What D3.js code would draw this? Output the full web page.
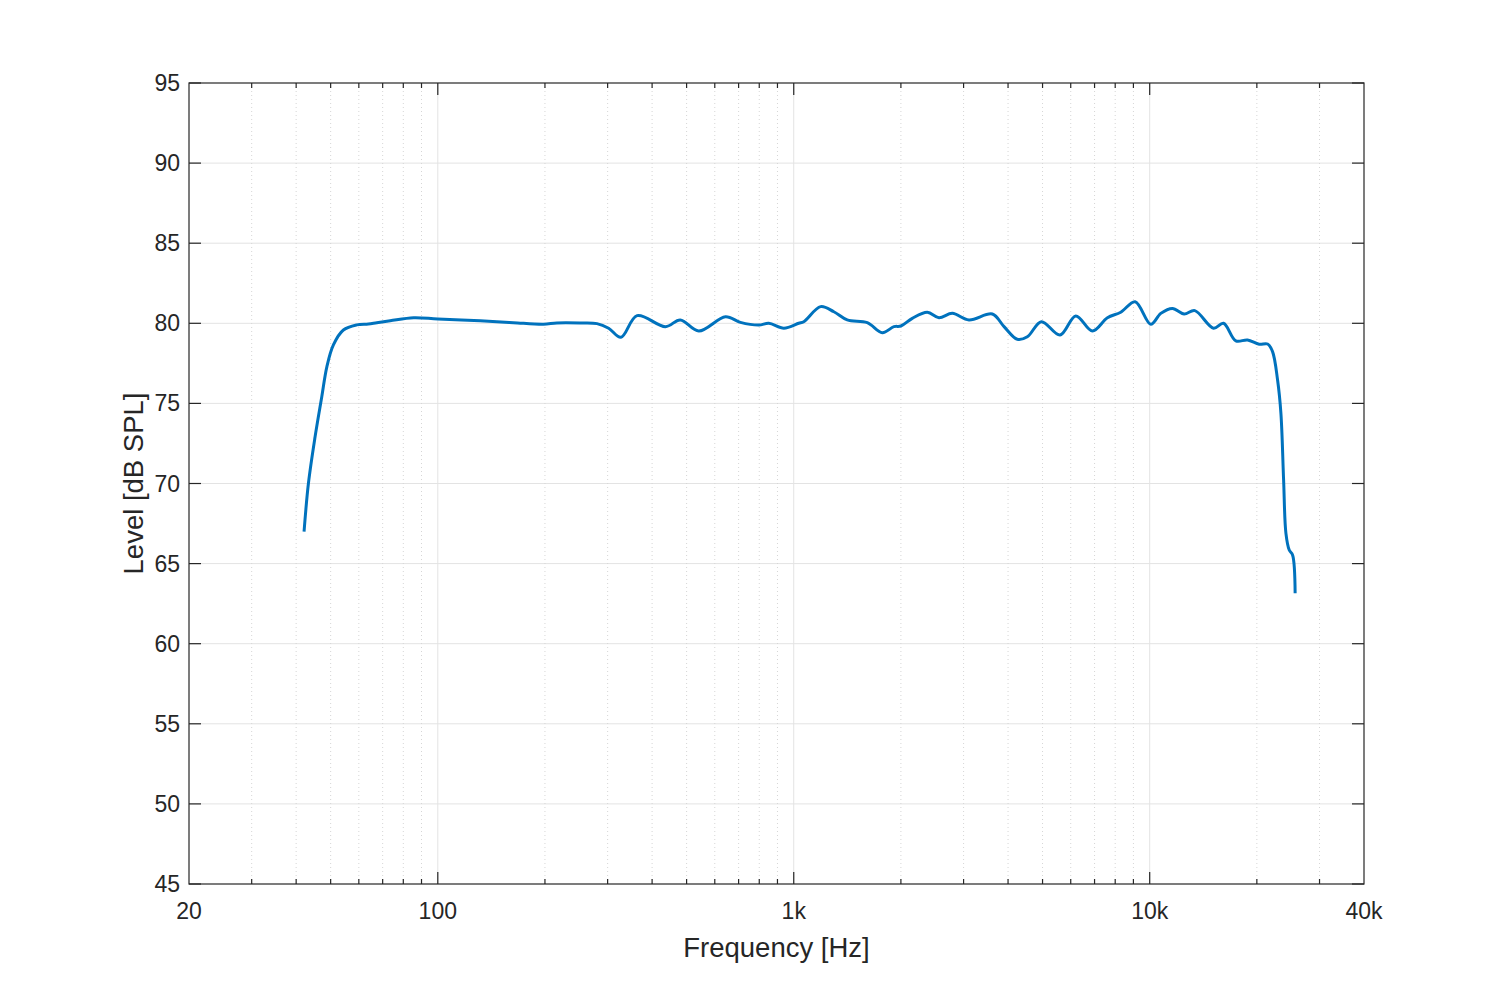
<!DOCTYPE html>
<html>
  <head>
    <script src="https://d3js.org/d3.v7.min.js"></script>
    <style>
      body { margin: 0; background: #fff; }
      text { font-family: "Liberation Sans", Arial, sans-serif; fill: #262626; }
      .tick-label { font-size: 23px; }
      .axis-label { font-size: 27.5px; }
    </style>
  </head>
  <body>
    <svg id="chart" width="1500" height="1000"></svg>
    <script>
      const freq = [42.1, 43.3, 45.2, 47.2, 48.8, 50.9, 54.3, 59.2, 63.8, 67.4, 73.5, 85.5, 100,
        131.6, 163, 198, 216, 251, 280, 302, 327, 363, 436, 480, 541, 643, 708, 798, 851, 938,
        1033, 1067, 1190, 1296, 1413, 1609, 1773, 1912, 2000, 2153, 2373, 2558, 2790, 3106,
        3614, 3898, 4248, 4532, 4963, 5598, 6199, 6905, 7608, 8292, 9098, 10070, 10744, 11588,
        12492, 13390, 15110, 16120, 17460, 18830, 20300, 21440, 22140, 22870, 23370, 23780,
        24140, 24660, 25200, 25620];
      const level = [67.0, 70.0, 72.9, 75.4, 77.3, 78.65, 79.58, 79.9, 79.96, 80.04, 80.16, 80.35, 80.27,
        80.16, 80.04, 79.94, 80.02, 80.02, 79.98, 79.69, 79.13, 80.48, 79.79, 80.21, 79.52, 80.41, 80.06, 79.89, 80.0, 79.69,
        80.0, 80.1, 81.04, 80.72, 80.21, 80.04, 79.41, 79.79, 79.83, 80.31, 80.69, 80.35, 80.62, 80.21,
        80.58, 79.79, 79.0, 79.16, 80.1, 79.27, 80.46, 79.52, 80.35, 80.69, 81.35, 79.94, 80.62, 80.93,
        80.58, 80.79, 79.69, 80.0, 78.9, 78.96, 78.69, 78.71, 78.23, 76.46, 74.38, 70.22,
        66.89, 65.85, 65.54, 63.15];

      const xMajor = [100, 1000, 10000];
      const xMinor = [30, 40, 50, 60, 70, 80, 90, 200, 300, 400, 500, 600, 700, 800, 900,
        2000, 3000, 4000, 5000, 6000, 7000, 8000, 9000, 20000, 30000];
      const xTickValues = [20, 100, 1000, 10000, 40000];
      const xTickLabels = ["20", "100", "1k", "10k", "40k"];
      const yTicks = [45, 50, 55, 60, 65, 70, 75, 80, 85, 90, 95];

      const svg = d3.select("svg#chart");
      const margin = {top: 83, left: 189};
      const w = 1175, h = 801;
      const g = svg.append("g").attr("transform", `translate(${margin.left},${margin.top})`);

      const x = d3.scaleLog().domain([20, 40000]).range([0, w]);
      const y = d3.scaleLinear().domain([45, 95]).range([h, 0]);

      // grid
      g.selectAll(".ygrid").data(yTicks.slice(1, -1)).join("line")
        .attr("x1", 0).attr("x2", w)
        .attr("y1", d => y(d)).attr("y2", d => y(d))
        .attr("stroke", "#e3e3e3").attr("stroke-width", 1);
      g.selectAll(".xminor").data(xMinor).join("line")
        .attr("x1", d => x(d)).attr("x2", d => x(d))
        .attr("y1", 0).attr("y2", h)
        .attr("stroke", "#d6d6d6").attr("stroke-width", 1)
        .attr("stroke-dasharray", "1,3");
      g.selectAll(".xmajor").data(xMajor).join("line")
        .attr("x1", d => x(d)).attr("x2", d => x(d))
        .attr("y1", 0).attr("y2", h)
        .attr("stroke", "#e3e3e3").attr("stroke-width", 1);

      // the response curve
      const line = d3.line()
        .x(d => x(d[0]))
        .y(d => y(d[1]))
        .curve(d3.curveCatmullRom.alpha(0.5));
      g.append("path")
        .datum(d3.zip(freq, level))
        .attr("d", line)
        .attr("fill", "none")
        .attr("stroke", "#0072BD")
        .attr("stroke-width", 3)
        .attr("stroke-linejoin", "round");

      // box and ticks, matlab style (inward, all four sides)
      const axisColor = "#262626";
      g.append("rect").attr("width", w).attr("height", h)
        .attr("fill", "none").attr("stroke", axisColor).attr("stroke-width", 1.2);

      const majorLen = 12, minorLen = 5;
      const xt = xMajor.map(d => [d, majorLen]).concat(xMinor.map(d => [d, minorLen]));
      g.selectAll(".xtb").data(xt).join("line")
        .attr("x1", d => x(d[0])).attr("x2", d => x(d[0]))
        .attr("y1", h).attr("y2", d => h - d[1])
        .attr("stroke", axisColor).attr("stroke-width", 1.2);
      g.selectAll(".xtt").data(xt).join("line")
        .attr("x1", d => x(d[0])).attr("x2", d => x(d[0]))
        .attr("y1", 0).attr("y2", d => d[1])
        .attr("stroke", axisColor).attr("stroke-width", 1.2);
      g.selectAll(".ytl").data(yTicks).join("line")
        .attr("x1", 0).attr("x2", majorLen)
        .attr("y1", d => y(d)).attr("y2", d => y(d))
        .attr("stroke", axisColor).attr("stroke-width", 1.2);
      g.selectAll(".ytr").data(yTicks).join("line")
        .attr("x1", w).attr("x2", w - majorLen)
        .attr("y1", d => y(d)).attr("y2", d => y(d))
        .attr("stroke", axisColor).attr("stroke-width", 1.2);

      // tick labels
      g.selectAll(".xlab").data(xTickValues).join("text")
        .attr("class", "tick-label")
        .attr("x", d => x(d)).attr("y", h + 35)
        .attr("text-anchor", "middle")
        .text((d, i) => xTickLabels[i]);
      g.selectAll(".ylab").data(yTicks).join("text")
        .attr("class", "tick-label")
        .attr("x", -9).attr("y", d => y(d))
        .attr("text-anchor", "end")
        .attr("dominant-baseline", "central")
        .text(d => d);

      // axis titles
      g.append("text").attr("class", "axis-label")
        .attr("x", w / 2).attr("y", h + 73)
        .attr("text-anchor", "middle")
        .text("Frequency [Hz]");
      g.append("text").attr("class", "axis-label")
        .attr("transform", `translate(-46,${h / 2}) rotate(-90)`)
        .attr("text-anchor", "middle")
        .text("Level [dB SPL]");
    </script>
  </body>
</html>
